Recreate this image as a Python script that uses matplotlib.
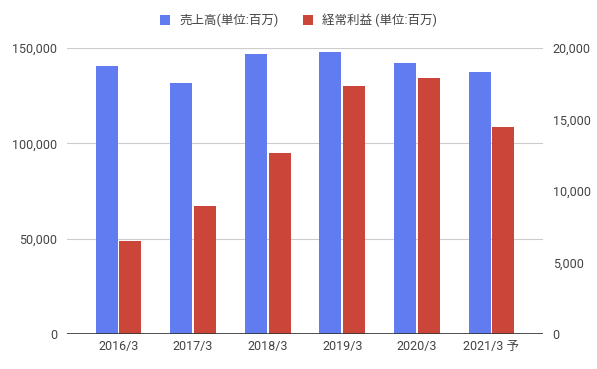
import matplotlib
matplotlib.use("Agg")
import matplotlib.pyplot as plt
import numpy as np
from matplotlib.ticker import FuncFormatter

plt.rcParams['font.family'] = ['Roboto', 'Noto Sans CJK JP', 'DejaVu Sans']

# data
years = ["2016/3", "2017/3", "2018/3", "2019/3", "2020/3", "2021/3 予"]
sales = [140700, 131600, 147000, 148100, 142100, 137400]      # 売上高 (left axis)
profit = [6510, 8960, 12650, 17360, 17900, 14470]              # 経常利益 (right axis)
sales_label = "売上高(単位:百万)"
profit_label = "経常利益 (単位:百万)"

blue = "#607cf0"
red = "#cc4539"
grid_col = "#cccccc"
text_col = "#444444"

fig = plt.figure(figsize=(5.97, 3.69), dpi=100)
ax = fig.add_axes([0.1122, 0.0949, 0.7973, 0.775])
ax2 = ax.twinx()

x = np.arange(len(years))
w = 0.295
off = 0.16
b1 = ax.bar(x - off, sales, w, color=blue, zorder=3, label=sales_label)
b2 = ax2.bar(x + off, profit, w, color=red, zorder=3, label=profit_label)

ax.set_xlim(-0.69, 5.69)
ax.set_ylim(0, 150000)
ax2.set_ylim(0, 20000)
ax.set_yticks([0, 50000, 100000, 150000])
ax2.set_yticks([0, 5000, 10000, 15000, 20000])
fmt = FuncFormatter(lambda v, p: f"{int(v):,}")
ax.yaxis.set_major_formatter(fmt)
ax2.yaxis.set_major_formatter(fmt)

ax.set_xticks(x)
ax.set_xticklabels(years)

# gridlines live on the lower axes so the red bars cover them
ax.grid(axis="y", color=grid_col, linewidth=0.8, zorder=0)
ax.set_axisbelow(True)
for a in (ax, ax2):
    for s in a.spines.values():
        s.set_visible(False)
    a.tick_params(length=0, labelsize=9, labelcolor=text_col)
ax.tick_params(axis="y", pad=7)
ax2.tick_params(axis="y", pad=7)
ax.tick_params(axis="x", pad=4)
ax2.axhline(0, color="#333333", linewidth=1.2, zorder=4)

fig.legend([b1, b2], [sales_label, profit_label], loc="center",
           bbox_to_anchor=(0.5, 0.945), ncol=2, frameon=False,
           fontsize=9, handlelength=0.8, handleheight=0.8,
           columnspacing=2.0, handletextpad=0.7, labelcolor=text_col)

fig.savefig("out.png", dpi=100)
